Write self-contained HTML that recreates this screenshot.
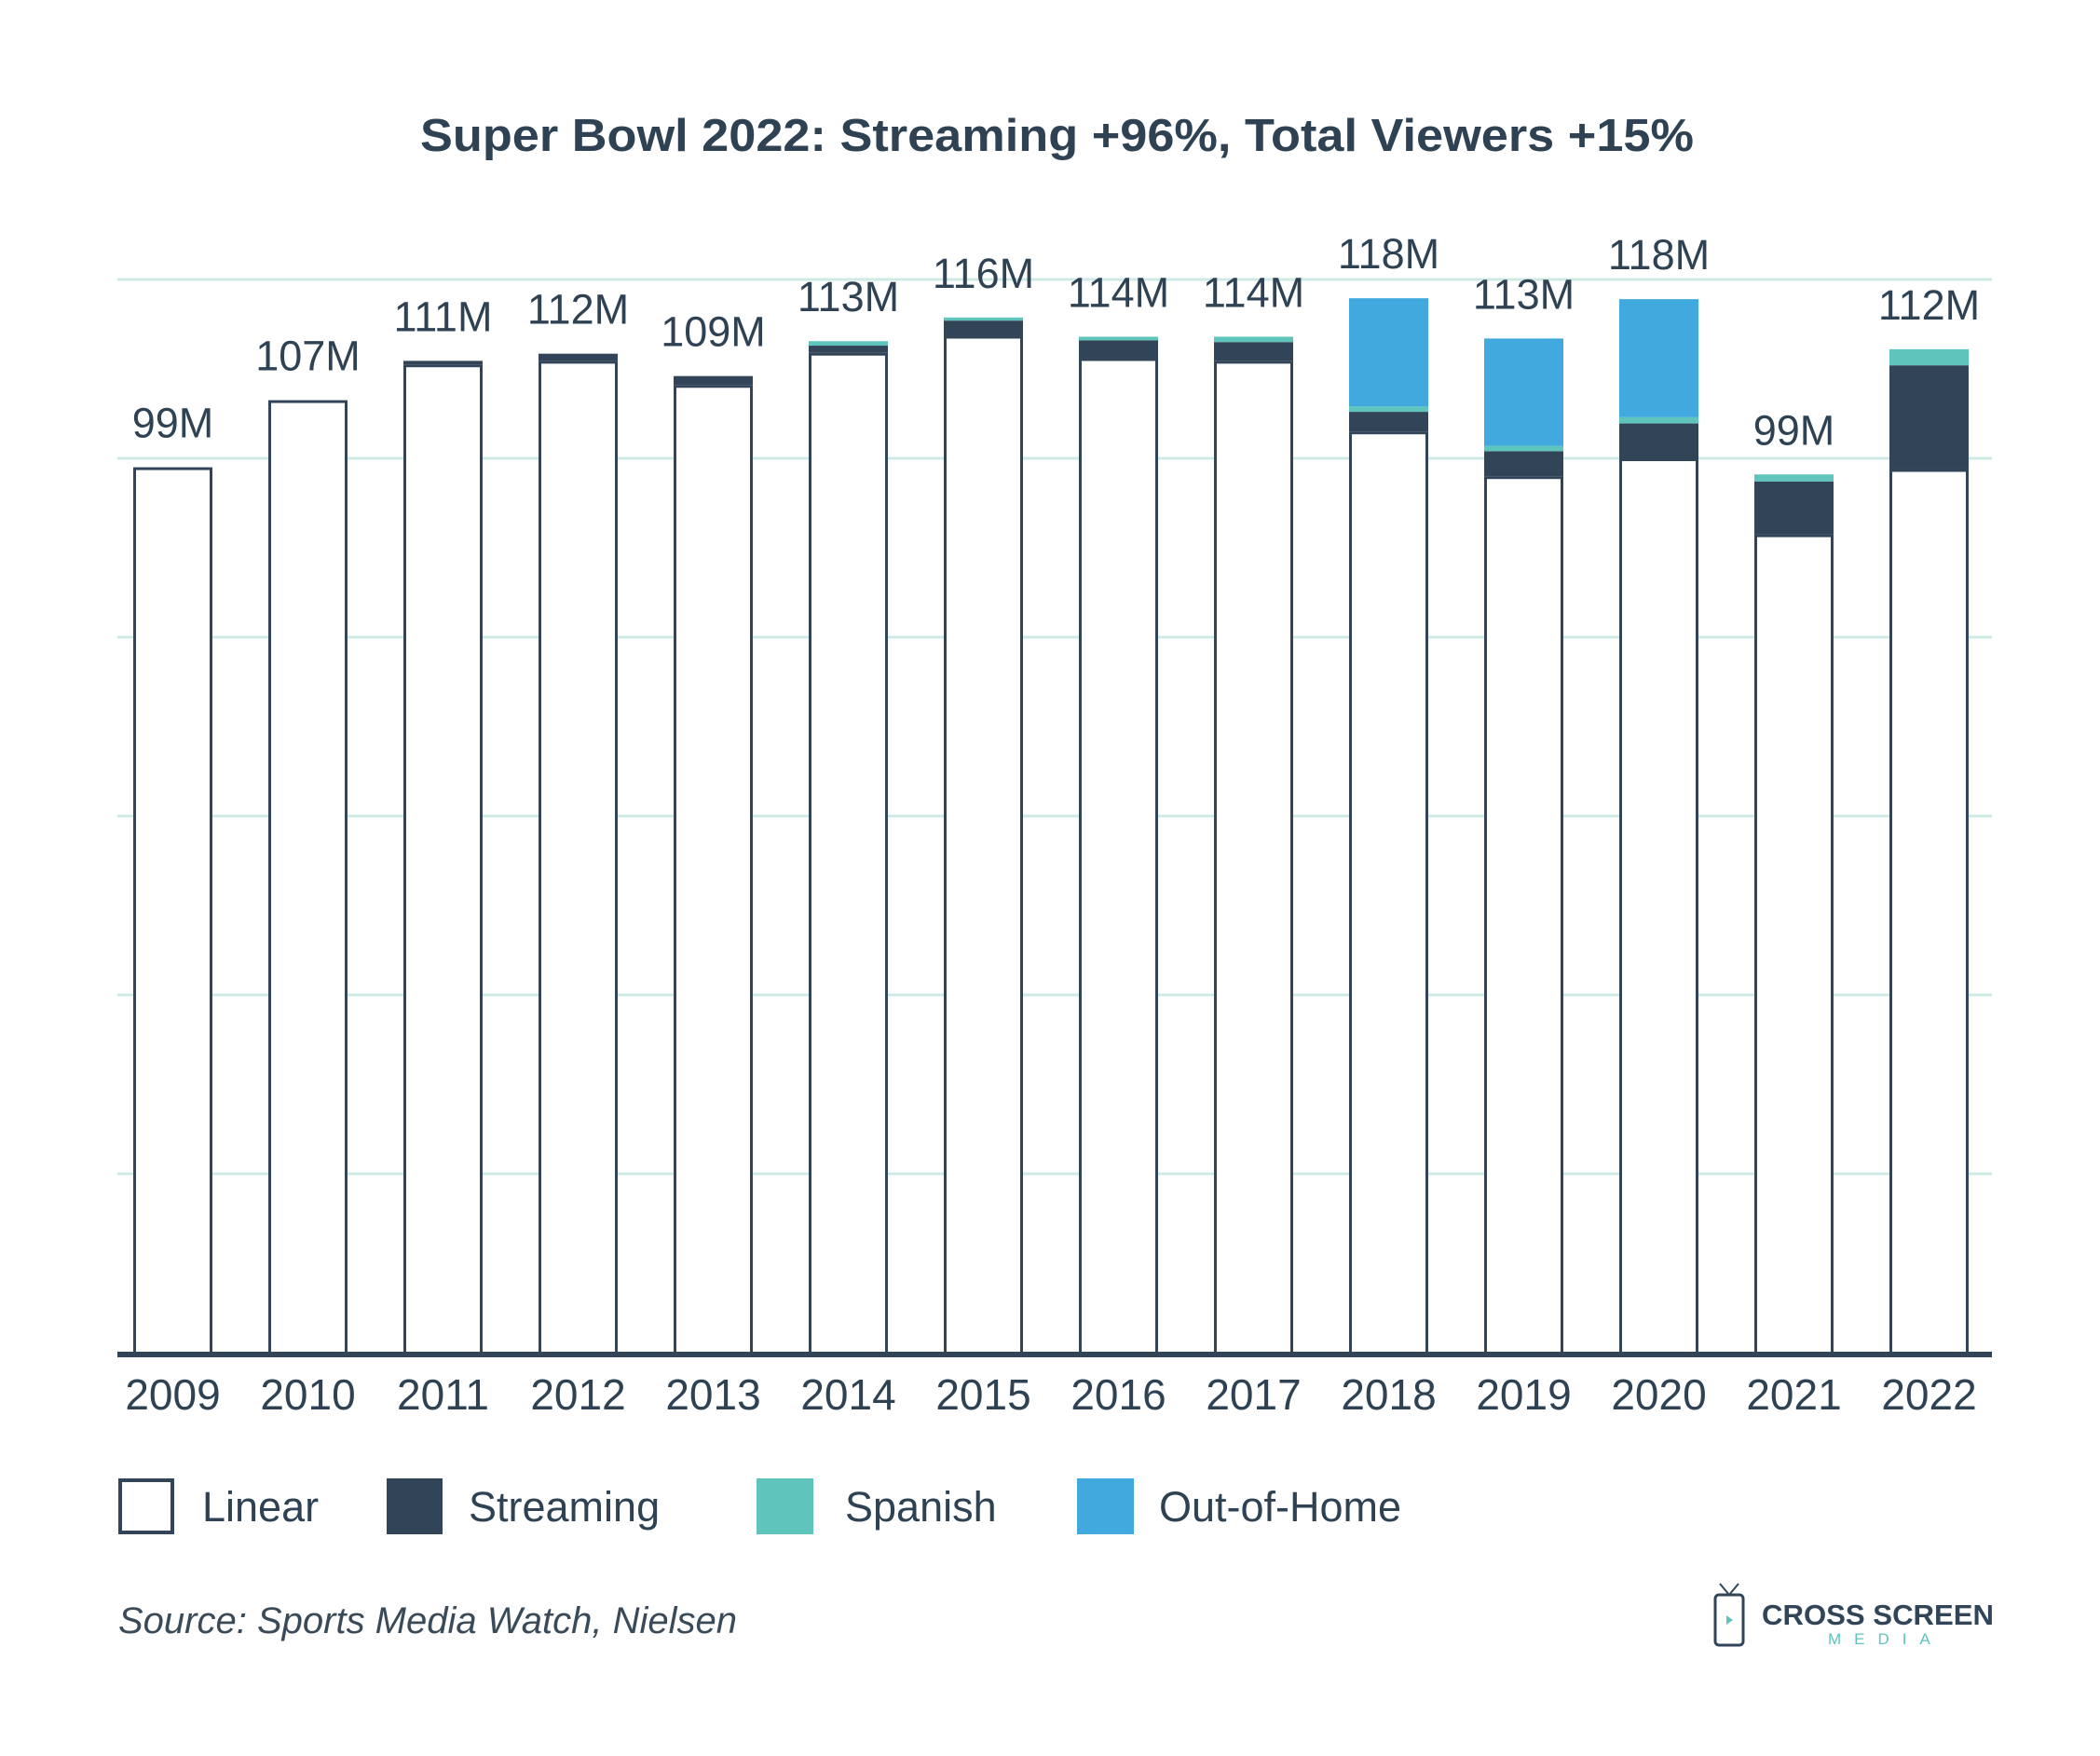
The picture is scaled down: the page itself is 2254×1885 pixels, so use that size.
<!DOCTYPE html>
<html><head><meta charset="utf-8"><style>
html,body{margin:0;padding:0;background:#fff;}
svg{display:block;font-family:"Liberation Sans",sans-serif;}
</style></head><body>
<svg id="chart" width="2254" height="1885" viewBox="0 0 2254 1885">
<text x="451" y="162" font-size="49" font-weight="bold" fill="#2f4254" textLength="1367" lengthAdjust="spacingAndGlyphs">Super Bowl 2022: Streaming +96%, Total Viewers +15%</text>
<g id="grid"></g>
<g id="bars"></g>
<g id="xlabels"></g>
<g>
 <g><rect x="129" y="1589" width="56" height="56" fill="#fff" stroke="#324558" stroke-width="4"/><text x="217" y="1633" font-size="45" fill="#2f4254">Linear</text></g>
 <g><rect x="415" y="1587" width="60" height="60" fill="#324558"/><text x="503" y="1633" font-size="45" fill="#2f4254">Streaming</text></g>
 <g><rect x="812" y="1587" width="61" height="60" fill="#5fc4bb"/><text x="907" y="1633" font-size="45" fill="#2f4254">Spanish</text></g>
 <g><rect x="1156" y="1587" width="61" height="60" fill="#42a9de"/><text x="1244" y="1633" font-size="45" fill="#2f4254">Out-of-Home</text></g>
</g>
<text x="127" y="1753" font-size="40" font-style="italic" fill="#3a4a58">Source: Sports Media Watch, Nielsen</text>
<g>
 <rect x="1841" y="1712" width="30" height="54" rx="4" fill="none" stroke="#324558" stroke-width="3"/>
 <path d="M1846 1700 L1856 1712 L1866 1700" fill="none" stroke="#324558" stroke-width="2"/>
 <path d="M1853 1734 L1860 1739 L1853 1744 Z" fill="#5fc4bb"/>
 <text x="1891" y="1744" font-size="31" font-weight="bold" fill="#324558" textLength="249" lengthAdjust="spacingAndGlyphs">CROSS SCREEN</text>
 <text x="1962" y="1765" font-size="17" fill="#5fc4bb" letter-spacing="14">MEDIA</text>
</g>
</svg>
<script>
const years = ['2009','2010','2011','2012','2013','2014','2015','2016','2017','2018','2019','2020','2021','2022'];
const linear = [99, 106.5, 110.5, 110.9, 108.2, 111.8, 113.7, 111.2, 110.9, 103.0, 98.0, 100.0, 91.5, 98.8];
const streaming = [0, 0, 0.4, 0.8, 1.0, 0.8, 1.7, 2.0, 2.1, 2.2, 2.8, 3.9, 5.9, 11.6];
const spanish = [0, 0, 0, 0, 0, 0.5, 0.35, 0.4, 0.6, 0.6, 0.6, 0.7, 0.8, 1.8];
const outOfHome = [0, 0, 0, 0, 0, 0, 0, 0, 0, 12.1, 12.0, 13.2, 0, 0];
const totalLabels = ['99M','107M','111M','112M','109M','113M','116M','114M','114M','118M','113M','118M','99M','112M'];
const gridTicks = [0, 20, 40, 60, 80, 100, 120];

const NS = 'http://www.w3.org/2000/svg';
const y0 = 1452, pxPerM = 9.6;
function yScale(v){ return y0 - v * pxPerM; }
function xScale(i){ return 143 + i * 145; }
const barW = 85;
function mk(tag, attrs, parent){ const e = document.createElementNS(NS, tag); for (const k in attrs) e.setAttribute(k, attrs[k]); parent.appendChild(e); return e; }

const grid = document.getElementById('grid');
gridTicks.forEach(t => {
  if (t === 0) return;
  const l = mk('line', {x1:126, x2:2138, y1:yScale(t), y2:yScale(t), stroke:'#cdeae5', 'stroke-width':3}, grid);
  
  
});

const bars = document.getElementById('bars');
const xl = document.getElementById('xlabels');
years.forEach((yr, i) => {
  const g = mk('g', {}, bars);
  
  
  const x = xScale(i);
  let base = 0;
  const lr = mk('rect', {x:x+1.5, y:yScale(linear[i])+1.5, width:barW-3, height:linear[i]*pxPerM, fill:'#fff', stroke:'#324558', 'stroke-width':3}, g);
  
  
  base = linear[i];
  const segs = [[streaming, '#324558', 'streaming'], [spanish, '#5fc4bb', 'spanish'], [outOfHome, '#42a9de', 'out-of-home']];
  segs.forEach(([arr, col, nm]) => {
    const v = arr[i];
    if (v > 0) {
      const r = mk('rect', {x:x, y:yScale(base+v), width:barW, height:v*pxPerM, fill:col}, g);
      
      
    }
    base += v;
  });
  const t = mk('text', {x:x+barW/2, y:yScale(base)-32, 'text-anchor':'middle', 'font-size':45, fill:'#2f4254'}, g);
  t.textContent = totalLabels[i];
  
  
  const xt = mk('text', {x:x+barW/2, y:1513, 'text-anchor':'middle', 'font-size':46, fill:'#2f4254'}, xl);
  xt.textContent = yr;
  
  
});
const ax = mk('line', {x1:126, x2:2138, y1:y0+2, y2:y0+2, stroke:'#324558', 'stroke-width':6}, bars);


</script>
</body></html>
